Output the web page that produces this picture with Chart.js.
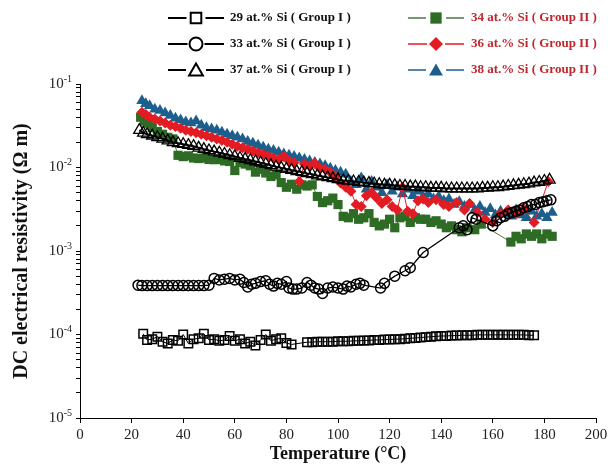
<!DOCTYPE html>
<html>
<head>
<meta charset="utf-8">
<script src="https://cdn.jsdelivr.net/npm/chart.js@4.4.1/dist/chart.umd.min.js"></script>
<style>
  html, body { margin: 0; padding: 0; background: #fff; }
  #wrap { width: 616px; height: 465px; }
</style>
</head>
<body>
<div id="wrap"><canvas id="chart" width="616" height="465"></canvas></div>
<script>
// Values (temperature in °C, resistivity in Ω m)
const xTicks   = [0, 20, 40, 60, 80, 100, 120, 140, 160, 180, 200];
const yDecades = [1e-5, 1e-4, 1e-3, 1e-2, 1e-1];

const labels = [
  '29 at.% Si ( Group I )',
  '33 at.% Si ( Group I )',
  '37 at.% Si ( Group I )',
  '34 at.% Si ( Group II )',
  '36 at.% Si ( Group II )',
  '38 at.% Si ( Group II )'
];

// 29 at.% - open squares
const t29 = [24.5, 26, 28, 30, 32, 34, 36, 38, 40, 42, 44, 46, 48, 50, 52, 54, 56, 58, 60, 62,
  64, 66, 68, 70, 72, 74, 76, 78, 80, 82,
  88, 90, 92, 94, 96, 98, 100, 102, 104, 106, 108, 110, 112, 114, 116, 118, 120, 122, 124, 126,
  128, 130, 132, 134, 136, 138, 140, 142, 144, 146, 148, 150, 152, 154, 156, 158, 160, 162, 164, 166,
  168, 170, 172, 174, 176];
const rho29 = [10.2e-5, 8.6e-5, 8.8e-5, 9.4e-5, 8.2e-5, 7.8e-5, 8.6e-5, 8.4e-5, 10.0e-5, 7.8e-5,
  8.8e-5, 9.0e-5, 10.2e-5, 8.6e-5, 8.8e-5, 8.4e-5, 8.6e-5, 9.6e-5, 8.4e-5, 8.8e-5,
  7.8e-5, 8.2e-5, 7.4e-5, 8.6e-5, 10.0e-5, 8.4e-5, 8.8e-5, 9.0e-5, 7.9e-5, 7.6e-5,
  8.1e-5, 8.1e-5, 8.2e-5, 8.2e-5, 8.2e-5, 8.2e-5, 8.3e-5, 8.3e-5, 8.3e-5, 8.4e-5,
  8.4e-5, 8.5e-5, 8.5e-5, 8.6e-5, 8.6e-5, 8.7e-5, 8.7e-5, 8.8e-5, 8.8e-5, 8.9e-5,
  9.0e-5, 9.1e-5, 9.2e-5, 9.3e-5, 9.4e-5, 9.5e-5, 9.6e-5, 9.6e-5, 9.7e-5, 9.7e-5,
  9.8e-5, 9.8e-5, 9.8e-5, 9.9e-5, 9.9e-5, 9.9e-5, 9.9e-5, 9.9e-5, 9.9e-5, 9.9e-5,
  9.9e-5, 9.9e-5, 9.9e-5, 9.8e-5, 9.8e-5];

// 33 at.% - open circles
const t33 = [22.5, 24, 26, 28, 30, 32, 34, 36, 38, 40, 42, 44, 46, 48, 50,
  52, 54, 56, 58, 60, 62, 63.5, 65, 66.5, 68, 70, 72, 73.5, 75, 76.5, 78, 80, 81, 82.5, 84,
  86, 88, 89.5, 91, 92.5, 94, 96, 98, 100, 102, 103.5, 105, 107, 108.5, 110,
  116.5, 118, 122, 126, 128, 133, 147, 148.5, 150, 152, 153.5,
  160, 161.5, 163, 164.5, 166, 167.5, 169, 170.5, 172, 173.5, 175, 176.5, 178, 179.5, 181, 182.5];
const rho33 = [3.9e-4, 3.85e-4, 3.85e-4, 3.85e-4, 3.85e-4, 3.85e-4, 3.85e-4, 3.85e-4, 3.85e-4, 3.85e-4,
  3.85e-4, 3.85e-4, 3.85e-4, 3.85e-4, 3.9e-4,
  4.7e-4, 4.5e-4, 4.6e-4, 4.7e-4, 4.5e-4, 4.6e-4, 4.2e-4, 3.7e-4, 4.0e-4, 4.1e-4, 4.3e-4, 4.4e-4,
  4.0e-4, 3.8e-4, 4.1e-4, 4.0e-4, 4.3e-4, 3.6e-4, 3.5e-4, 3.5e-4,
  3.6e-4, 4.2e-4, 3.9e-4, 3.6e-4, 3.5e-4, 3.1e-4, 3.6e-4, 3.7e-4, 3.6e-4, 3.5e-4, 3.8e-4, 3.7e-4,
  4.0e-4, 4.1e-4, 3.9e-4,
  3.6e-4, 4.1e-4, 5.0e-4, 5.8e-4, 6.3e-4, 9.6e-4, 1.9e-3, 2.0e-3, 1.8e-3, 2.5e-3, 2.4e-3,
  2.0e-3, 2.3e-3, 2.5e-3, 2.6e-3, 2.8e-3, 2.9e-3, 3.0e-3, 3.1e-3, 3.3e-3, 3.4e-3, 3.6e-3, 3.6e-3,
  3.8e-3, 3.9e-3, 4.0e-3, 4.1e-3];

// 37 at.% - open triangles
const t37 = [23, 24.5, 26, 28, 30, 32, 34, 36, 38, 40, 42, 44, 46, 48, 50, 52, 54, 56, 58, 60,
  62, 64, 66, 68, 70, 72, 74, 76, 78, 80, 82, 84, 86, 88, 90, 92, 94, 96, 98, 100,
  102, 104, 106, 108, 110, 112, 114, 116, 118, 120, 122, 124, 126, 128, 130, 132, 134, 136, 138, 140,
  142, 144, 146, 148, 150, 152, 154, 156, 158, 160, 162, 164, 166, 168, 170, 172, 174, 176, 178, 180, 182];
const rho37 = [0.028, 0.026, 0.025, 0.024, 0.023, 0.022, 0.021, 0.020, 0.0195, 0.019,
  0.0185, 0.018, 0.0172, 0.0166, 0.016, 0.0155, 0.015, 0.0145, 0.014, 0.0136,
  0.013, 0.0126, 0.0122, 0.0118, 0.0114, 0.011, 0.0106, 0.0102, 0.0099, 0.0096,
  0.0093, 0.009, 0.0088, 0.0085, 0.0083, 0.008, 0.0078, 0.0076, 0.0074, 0.0072,
  0.007, 0.0069, 0.0068, 0.0067, 0.0066, 0.0065, 0.0064, 0.0063, 0.0062, 0.0062,
  0.0061, 0.006, 0.006, 0.0059, 0.0059, 0.0058, 0.0058, 0.0057, 0.0057, 0.0057,
  0.0056, 0.0056, 0.0056, 0.0056, 0.0056, 0.0056, 0.0056, 0.0057, 0.0057, 0.0058,
  0.0058, 0.0059, 0.006, 0.0061, 0.0062, 0.0063, 0.0064, 0.0066, 0.0067, 0.0069, 0.0071];

// 34 at.% - filled green squares
const t34 = [23.5, 25, 26.5, 28, 30, 32, 34, 36, 38, 40, 42, 44, 46, 48, 50, 52, 54, 56, 58, 60,
  62, 64, 66, 68, 70, 72, 74, 76, 78, 80, 82, 84, 86, 88, 90, 92, 94, 96, 98, 100,
  102, 104, 106, 108, 110, 112, 114, 116, 118, 120, 122, 124, 126, 128, 130, 132, 134, 136, 138, 140,
  142, 144, 146, 148, 150, 153, 155.5, 167, 169, 171, 173, 175, 177, 179, 181, 183];
const rho34 = [0.040, 0.036, 0.034, 0.030, 0.027, 0.025, 0.023, 0.022, 0.014, 0.0135,
  0.0138, 0.013, 0.0128, 0.013, 0.0125, 0.0124, 0.0125, 0.012, 0.0118, 0.0092,
  0.0115, 0.011, 0.0105, 0.0088, 0.0095, 0.0086, 0.0078, 0.0082, 0.0066, 0.0058,
  0.0063, 0.0055, 0.0062, 0.006, 0.0062, 0.0045, 0.0038, 0.0040, 0.0043, 0.0036,
  0.0026, 0.0025, 0.0028, 0.0024, 0.0025, 0.0028, 0.0022, 0.0020, 0.0021, 0.0024,
  0.0019, 0.0025, 0.0026, 0.0022, 0.0025, 0.0024, 0.0024, 0.0022, 0.0023, 0.0021,
  0.0019, 0.0020, 0.0018, 0.0017, 0.0019, 0.0018, 0.0021, 0.00128, 0.0015, 0.0014,
  0.0016, 0.0015, 0.0016, 0.0014, 0.0016, 0.0015];

// 36 at.% - red diamonds
const t36 = [24, 25.5, 27, 29, 31, 33, 35, 37, 39, 41, 43, 45, 47, 49, 51, 53, 55, 57, 59, 61,
  63, 65, 67, 69, 71, 73, 75, 77, 79, 81, 83, 85, 87, 89, 91, 93, 95, 97, 99, 101,
  103, 105, 107, 109, 111, 113, 115, 117, 119, 121, 123, 125, 127, 129, 131, 133, 135, 138, 141, 143,
  146, 149, 151, 154, 157, 160, 163, 166, 169, 172, 176, 181.5];
const rho36 = [0.046, 0.043, 0.040, 0.038, 0.036, 0.034, 0.032, 0.031, 0.0295, 0.028,
  0.027, 0.026, 0.025, 0.024, 0.023, 0.022, 0.021, 0.020, 0.019, 0.018,
  0.0172, 0.0165, 0.0158, 0.015, 0.0143, 0.0137, 0.013, 0.0125, 0.0135, 0.012,
  0.0115, 0.0068, 0.011, 0.0105, 0.0112, 0.0098, 0.0095, 0.0088, 0.0078, 0.0065,
  0.0058, 0.0052, 0.0036, 0.0034, 0.0046, 0.0050, 0.0043, 0.0037, 0.0041, 0.0034,
  0.0031, 0.0058, 0.0030, 0.0028, 0.0040, 0.0042, 0.0038, 0.0041, 0.0036, 0.0034,
  0.0038, 0.0031, 0.0037, 0.0029, 0.0024, 0.0022, 0.0028, 0.0031, 0.0028, 0.0032,
  0.0022, 0.0068];

// 38 at.% - blue triangles
const t38 = [24, 25.5, 27, 29, 31, 33, 35, 37, 39, 41, 43, 45, 47, 49, 51, 53, 55, 57, 59, 61,
  63, 65, 67, 69, 71, 73, 75, 77, 79, 81, 83, 85, 87, 89, 91, 93, 95, 97, 99, 101,
  103, 105, 107, 109, 111, 113, 115, 117, 119, 121, 123, 125, 127, 129, 131, 133, 135, 137, 139, 141,
  143, 145, 147, 149, 151, 153, 155, 157, 159, 161, 163, 165, 167, 169, 171, 173, 175, 177, 179, 181, 183];
const rho38 = [0.063, 0.058, 0.055, 0.050, 0.048, 0.045, 0.042, 0.039, 0.037, 0.035,
  0.034, 0.036, 0.032, 0.030, 0.029, 0.028, 0.0265, 0.025, 0.024, 0.023,
  0.022, 0.0205, 0.0195, 0.0185, 0.0175, 0.0165, 0.016, 0.0152, 0.0145, 0.014,
  0.0135, 0.013, 0.0125, 0.012, 0.0115, 0.011, 0.0105, 0.0098, 0.0092, 0.0088,
  0.0083, 0.0068, 0.0062, 0.0075, 0.0055, 0.0068, 0.0058, 0.0050, 0.0062, 0.0052,
  0.0058, 0.0048, 0.0055, 0.0046, 0.0052, 0.0045, 0.0048, 0.0042, 0.0045, 0.0040,
  0.0042, 0.0036, 0.0039, 0.0034, 0.0036, 0.0031, 0.0034, 0.0029, 0.0032, 0.0027,
  0.0030, 0.0028, 0.0026, 0.0031, 0.0027, 0.0025, 0.0030, 0.0026, 0.0028, 0.0025, 0.0029];

const GREEN = '#2e6b24', RED = '#e31b23', BLUE = '#1c5f8c', LEGEND_RED = '#c0272d';
const SERIF = '"Liberation Serif", "Times New Roman", serif';

const pts = (t, r) => t.map((x, i) => ({ x, y: r[i] }));

const datasets = [
  { label: labels[0], data: pts(t29, rho29), borderColor: '#000', borderWidth: 1,
    pointStyle: 'rect', pointRadius: 6, pointBorderWidth: 1.5,
    pointBorderColor: '#000', pointBackgroundColor: 'rgba(255,255,255,0)', order: 2 },
  { label: labels[1], data: pts(t33, rho33), borderColor: '#000', borderWidth: 1.3,
    pointStyle: 'circle', pointRadius: 5, pointBorderWidth: 1.5,
    pointBorderColor: '#000', pointBackgroundColor: 'rgba(255,255,255,0)', order: 1 },
  { label: labels[2], data: pts(t37, rho37), borderColor: '#000', borderWidth: 2,
    pointStyle: 'triangle', pointRadius: 6.5, pointBorderWidth: 1.3,
    pointBorderColor: '#000', pointBackgroundColor: 'rgba(255,255,255,0)', order: 3 },
  { label: labels[3], data: pts(t34, rho34), borderColor: '#4c7a44', borderWidth: 1,
    pointStyle: 'rect', pointRadius: 6.5, pointBorderWidth: 0,
    pointBorderColor: GREEN, pointBackgroundColor: GREEN, order: 5 },
  { label: labels[4], data: pts(t36, rho36), borderColor: RED, borderWidth: 1,
    pointStyle: 'rectRot', pointRadius: 5.5, pointBorderWidth: 0,
    pointBorderColor: RED, pointBackgroundColor: RED, order: 4 },
  { label: labels[5], data: pts(t38, rho38), borderColor: BLUE, borderWidth: 1,
    pointStyle: 'triangle', pointRadius: 6.5, pointBorderWidth: 0,
    pointBorderColor: BLUE, pointBackgroundColor: BLUE, order: 6 }
];

// marker used by the legend (same shapes as Chart.js draws)
function drawMarker(ctx, style, x, y, r, fill, stroke, lw) {
  ctx.beginPath();
  if (style === 'rect') {
    const s = r * Math.SQRT1_2;
    ctx.rect(x - s, y - s, 2 * s, 2 * s);
  } else if (style === 'rectRot') {
    ctx.moveTo(x, y - r); ctx.lineTo(x + r, y); ctx.lineTo(x, y + r); ctx.lineTo(x - r, y);
    ctx.closePath();
  } else if (style === 'triangle') {
    ctx.moveTo(x, y - r); ctx.lineTo(x + r * 0.866, y + r / 2); ctx.lineTo(x - r * 0.866, y + r / 2);
    ctx.closePath();
  } else {
    ctx.arc(x, y, r, 0, Math.PI * 2);
  }
  ctx.fillStyle = fill;
  ctx.fill();
  if (lw > 0) { ctx.lineWidth = lw; ctx.strokeStyle = stroke; ctx.stroke(); }
}

// Two-column legend: line - marker - line, then label
const legendRows = [18, 44, 70];
const legendCols = [
  { x0: 168, xm: 196, x1: 224, xt: 230, color: '#111' },
  { x0: 408, xm: 436, x1: 464, xt: 471, color: LEGEND_RED }
];
const pairLegend = {
  id: 'pairLegend',
  afterDraw(chart) {
    const ctx = chart.ctx;
    chart.data.datasets.forEach((ds, i) => {
      const col = legendCols[i < 3 ? 0 : 1];
      const y = legendRows[i % 3];
      const open = i < 3;
      const r = ds.pointRadius + 1.5;
      ctx.save();
      ctx.strokeStyle = open ? '#000' : ds.borderColor;
      ctx.lineWidth = open ? 2 : 1.5;
      ctx.beginPath();
      ctx.moveTo(col.x0, y); ctx.lineTo(col.xm - r - 2, y);
      ctx.moveTo(col.xm + r + 2, y); ctx.lineTo(col.x1, y);
      ctx.stroke();
      drawMarker(ctx, ds.pointStyle, col.xm, y + (ds.pointStyle === 'triangle' ? 1.5 : 0), r,
        open ? '#fff' : ds.pointBackgroundColor, '#000', open ? 2 : 0);
      ctx.font = 'bold 13px ' + SERIF;
      ctx.fillStyle = col.color;
      ctx.textBaseline = 'middle';
      ctx.fillText(ds.label, col.xt, y);
      ctx.restore();
    });
  }
};

// Decade labels as 10 with a raised exponent
const powerLabels = {
  id: 'powerLabels',
  afterDraw(chart) {
    const ctx = chart.ctx, ys = chart.scales.y;
    ctx.save();
    ctx.fillStyle = '#222';
    ctx.textBaseline = 'middle';
    ctx.textAlign = 'left';
    yDecades.forEach(v => {
      const y = ys.getPixelForValue(v);
      const exp = String(Math.round(Math.log10(v)));
      ctx.font = '10px ' + SERIF;
      const ew = ctx.measureText(exp).width;
      ctx.font = '15px ' + SERIF;
      const bw = ctx.measureText('10').width;
      const right = ys.right - 8;
      ctx.fillText('10', right - ew - bw, y);
      ctx.font = '10px ' + SERIF;
      ctx.fillText(exp, right - ew, y - 5);
    });
    ctx.restore();
  }
};

new Chart(document.getElementById('chart'), {
  type: 'line',
  data: { datasets },
  options: {
    responsive: false,
    animation: false,
    devicePixelRatio: 1,
    layout: { padding: { top: 84, right: 20, left: 0, bottom: 0 } },
    plugins: { legend: { display: false }, tooltip: { enabled: false } },
    elements: { line: { tension: 0 } },
    scales: {
      x: {
        type: 'linear', min: 0, max: 200,
        afterFit: s => { s.height = 47; },
        afterBuildTicks: axis => { axis.ticks = xTicks.map(v => ({ value: v })); },
        grid: { drawOnChartArea: false, drawTicks: true, tickLength: 5, color: '#000' },
        border: { display: true, color: '#000', width: 1 },
        ticks: { color: '#222', padding: 3, font: { family: SERIF, size: 15 }, maxRotation: 0 },
        title: { display: true, text: 'Temperature (°C)', color: '#111',
                 font: { family: SERIF, size: 18, weight: 'bold' }, padding: 0 }
      },
      y: {
        type: 'logarithmic', min: 1e-5, max: 1e-1,
        afterFit: s => { s.width = 80; },
        afterBuildTicks: axis => {
          const ticks = [];
          yDecades.forEach((d, i) => {
            const last = i === yDecades.length - 1;
            for (let m = 1; m <= (last ? 1 : 9); m++) ticks.push({ value: d * m, major: m === 1 });
          });
          axis.ticks = ticks;
        },
        grid: { drawOnChartArea: false, drawTicks: true, tickLength: 4, color: '#000' },
        border: { display: true, color: '#000', width: 1 },
        ticks: { autoSkip: false, callback: () => '' },
        title: { display: true, text: 'DC electrical resistivity (Ω m)', color: '#111',
                 font: { family: SERIF, size: 20, weight: 'bold' }, padding: { top: 10, bottom: 0 } }
      }
    }
  },
  plugins: [pairLegend, powerLabels]
});
</script>
</body>
</html>
